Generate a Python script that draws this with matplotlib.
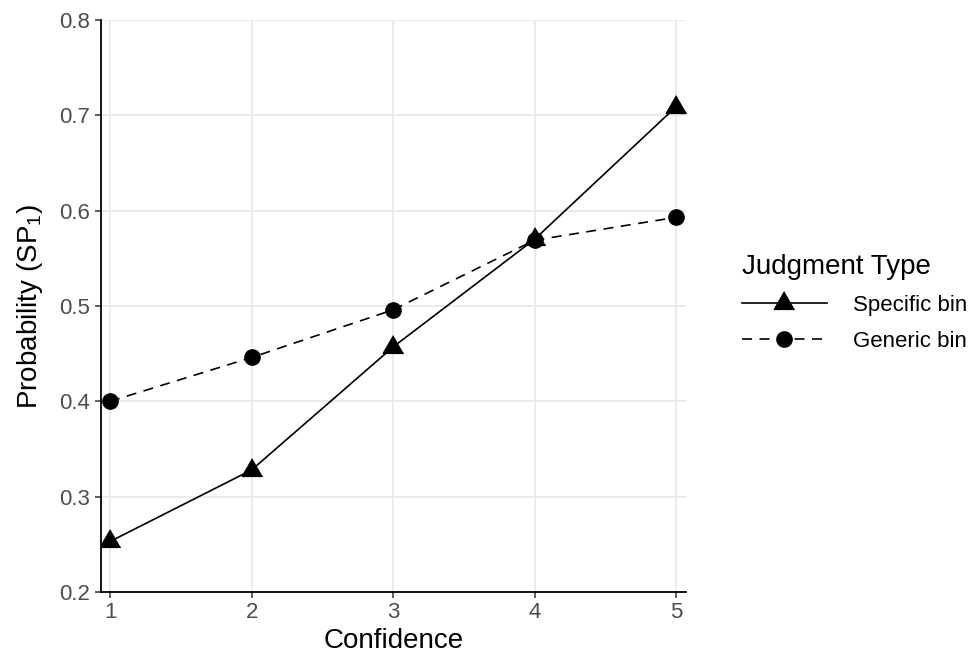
import matplotlib
matplotlib.use("Agg")
import matplotlib.pyplot as plt

# ─── Data ───
confidence = [1, 2, 3, 4, 5]
specific_bin = [0.253, 0.328, 0.457, 0.570, 0.709]
generic_bin = [0.400, 0.446, 0.496, 0.569, 0.593]
y_ticks = [0.2, 0.3, 0.4, 0.5, 0.6, 0.7, 0.8]

plt.rcParams["font.family"] = ["Liberation Sans", "DejaVu Sans"]
plt.rcParams["mathtext.fontset"] = "custom"
plt.rcParams["mathtext.rm"] = "Liberation Sans"

GRID = "#EBEBEB"
TICK_TXT = "#4D4D4D"

fig = plt.figure(figsize=(9.74, 6.58), dpi=100)
ax = fig.add_axes([0.1037, 0.1003, 0.6006, 0.8693])

# equilateral triangle centred on its centroid, like R's pch 17
tri = [(0, 1), (-0.866, -0.5), (0.866, -0.5)]

ax.plot(confidence, specific_bin, color="black", linewidth=1.2,
        marker=tri, markersize=17, label="Specific bin", zorder=3)
ax.plot(confidence, generic_bin, color="black", linewidth=1.2,
        linestyle=(0, (6, 4.5)), marker="o", markersize=11,
        label="Generic bin", zorder=3)

ax.set_xlim(0.936, 5.07)
ax.set_ylim(0.2, 0.8)
ax.set_xticks(confidence)
ax.set_yticks(y_ticks)
ax.set_yticklabels([f"{v:.1f}" for v in y_ticks])

ax.grid(True, color=GRID, linewidth=1.4)
ax.set_axisbelow(True)
for side in ["top", "right"]:
    ax.spines[side].set_visible(False)
for side in ["left", "bottom"]:
    ax.spines[side].set_linewidth(1.3)
    ax.spines[side].set_color("black")

ax.tick_params(axis="both", length=4, width=1.1, color="#333333",
               labelcolor=TICK_TXT, labelsize=16)
ax.tick_params(axis="y", pad=4)
ax.tick_params(axis="x", pad=3)

ax.set_xlabel("Confidence", fontsize=20, labelpad=3.5)
ax.set_ylabel(r"Probability (SP$_{\mathregular{1}}$)", fontsize=20, labelpad=10)

leg = fig.legend(loc="upper left", bbox_to_anchor=(0.762, 0.614),
                 title="Judgment Type", title_fontsize=20, fontsize=16,
                 frameon=False, handlelength=3.8, handletextpad=1.2,
                 labelspacing=0.67, borderpad=0, borderaxespad=0)
leg._legend_box.align = "left"

fig.savefig("out.png", dpi=100)
